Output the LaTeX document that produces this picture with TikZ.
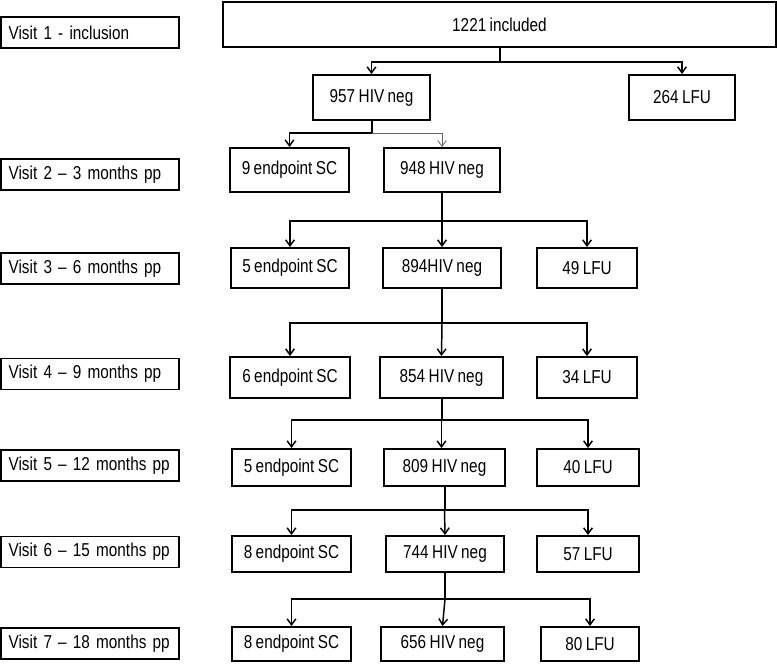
\documentclass[tikz,border=0pt]{standalone}
\usepackage{fontspec}
\setmainfont{Liberation Sans}[FakeStretch=0.82,WordSpace=0.82]
\usetikzlibrary{arrows.meta}

\begin{document}
\begin{tikzpicture}[x=0.75pt,y=-0.75pt,
	box/.style={draw,line width=1.4pt,inner sep=0pt,font=\fontsize{14}{16}\selectfont},
	size/.style 2 args={minimum width=#1*0.75pt,minimum height=#2*0.75pt},
	visit/.style={box,inner xsep=6pt,text width=122pt,minimum height=23.25pt,align=left},
	arr/.style={-{Straight Barb[length=4.5pt,width=6.5pt]},line width=1.1pt},
	trunk/.style={line width=1.5pt}]
				\useasboundingbox (0,0) rectangle (777,664);
				
				\node[visit] (v1) at (90,32.5) {Visit 1 - inclusion};
				\node[visit] (v2) at (90,174.5) {Visit 2 -- 3 months pp};
				\node[visit] (v3) at (90,268.5) {Visit 3 -- 6 months pp};
				\node[visit] (v4) at (90,374) {Visit 4 -- 9 months pp};
				\node[visit] (v5) at (90,465.5) {Visit 5 -- 12 months pp};
				\node[visit] (v6) at (90,552) {Visit 6 -- 15 months pp};
				\node[visit] (v7) at (90,643.5) {Visit 7 -- 18 months pp};
				
				\node[box,size={553}{45}] (inc) at (499.5,24.5) {1221 included};
				\node[box,size={117}{45}] (hiv1) at (371.5,97.5) {957 HIV neg};
				\node[box,size={106}{45}] (lfu1) at (682,97.5) {264 LFU};
				
				\node[box,size={119}{44}] (sc2) at (289.5,170) {9 endpoint SC};
				\node[box,size={116}{44}] (hiv2) at (442,170) {948 HIV neg};
				
				\node[box,size={118}{40}] (sc3) at (290,268) {5 endpoint SC};
				\node[box,size={118}{40}] (hiv3) at (442,268) {894HIV neg};
				\node[box,size={100}{40}] (lfu3) at (587,268) {49 LFU};
				
				\node[box,size={120}{41}] (sc4) at (290,377.5) {6 endpoint SC};
				\node[box,size={123}{41}] (hiv4) at (441.5,377.5) {854 HIV neg};
				\node[box,size={100}{41}] (lfu4) at (587,377.5) {34 LFU};
				
				\node[box,size={119}{37}] (sc5) at (291.5,467.5) {5 endpoint SC};
				\node[box,size={121}{37}] (hiv5) at (444.5,467.5) {809 HIV neg};
				\node[box,size={102}{37}] (lfu5) at (588,467.5) {40 LFU};
				
				\node[box,size={119}{36}] (sc6) at (291.5,554) {8 endpoint SC};
				\node[box,size={118}{36}] (hiv6) at (445,554) {744 HIV neg};
				\node[box,size={102}{36}] (lfu6) at (588,554) {57 LFU};
				
				\node[box,size={119}{34}] (sc7) at (291.5,644) {8 endpoint SC};
				\node[box,size={123}{34}] (hiv7) at (442.5,644) {656 HIV neg};
				\node[box,size={98}{34}] (lfu7) at (590,644) {80 LFU};
				
				\coordinate (j1) at (499.5,62);
				\coordinate (j2) at (371.5,133);
				\coordinate (j3) at (442,221);
				\coordinate (j4) at (442,323);
				\coordinate (j5) at (441.5,420);
				\coordinate (j6) at (444.5,510);
				\coordinate (j7) at (445,599);
				
				\draw[trunk] (inc) -- (j1);
				\draw[arr] (j1) -| (hiv1.north);
				\draw[arr] (j1) -| (lfu1.north);
				
				\draw[trunk] (hiv1) -- (j2);
				\draw[arr] (j2) -| (sc2.north);
				\draw[arr,line width=0.6pt,black!60] (j2) -| (hiv2.north);
				
				\draw[trunk] (hiv2) -- (j3);
				\draw[arr] (j3) -| (sc3.north);
				\draw[arr] (j3) -- (hiv3.north);
				\draw[arr] (j3) -| (lfu3.north);
				
				\draw[trunk] (hiv3) -- (j4);
				\draw[arr] (j4) -| (sc4.north);
				\draw[arr] (j4) -- (hiv4.north);
				\draw[arr] (j4) -| (lfu4.north);
				
				\draw[trunk] (hiv4) -- (j5);
				\draw[arr] (j5) -| (sc5.north);
				\draw[arr] (j5) -- (j5 |- hiv5.north);
				\draw[arr] (j5) -| (lfu5.north);
				
				\draw[trunk] (hiv5) -- (j6);
				\draw[arr] (j6) -| (sc6.north);
				\draw[arr] (j6) -- (hiv6.north);
				\draw[arr] (j6) -| (lfu6.north);
				
				\draw[trunk] (hiv6) -- (j7);
				\draw[arr] (j7) -| (sc7.north);
				\draw[arr] (j7) -- (hiv7.north);
				\draw[arr] (j7) -| (lfu7.north);
			\end{tikzpicture}
\end{document}
